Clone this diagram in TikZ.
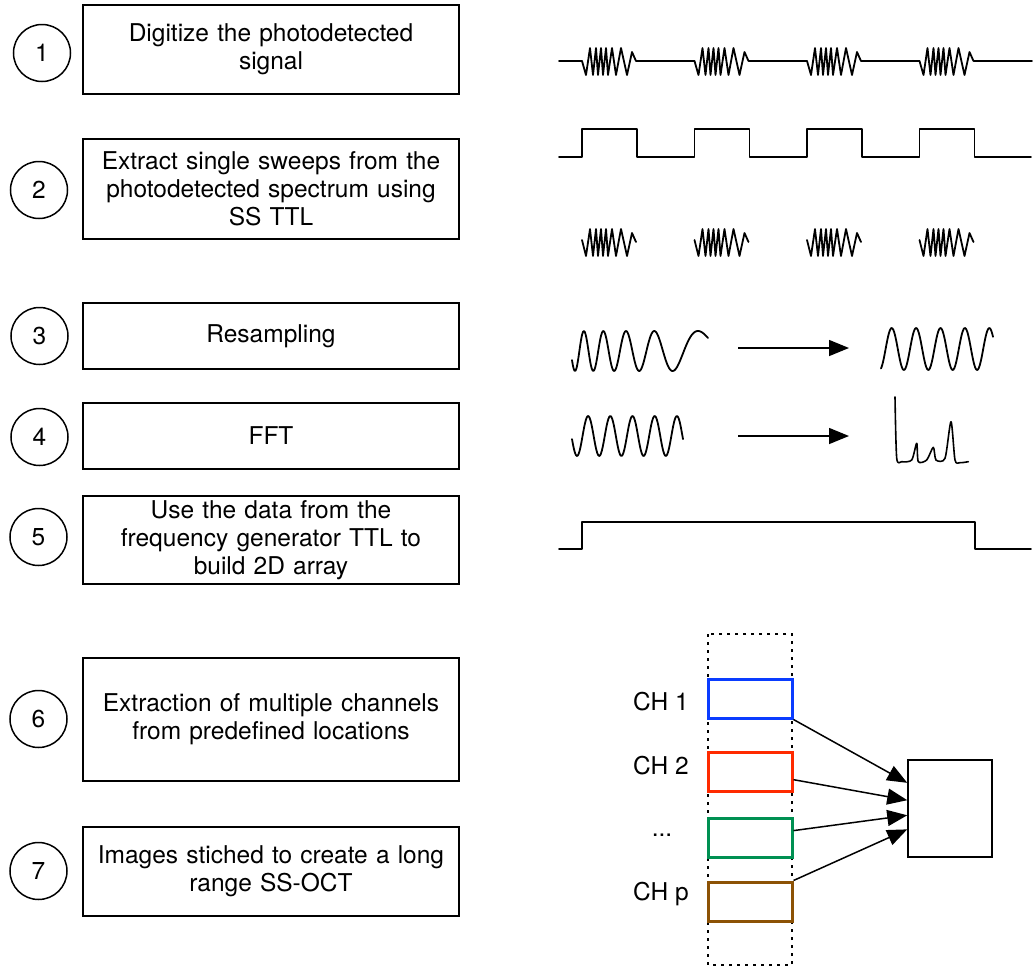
\documentclass[tikz,border=0pt]{standalone}
\usepackage{fontspec}
\setmainfont{TeX Gyre Heros}
\usetikzlibrary{arrows.meta,positioning,calc}

\definecolor{chblue}{RGB}{10,60,255}
\definecolor{chred}{RGB}{255,42,0}
\definecolor{chgreen}{RGB}{0,144,82}
\definecolor{chbrown}{RGB}{140,82,5}

\tikzset{
  stepbox/.style={draw, line width=1.5, minimum width=376, minimum height=#1,
    text width=362, align=center, inner sep=0},
  stepnum/.style={draw, circle, line width=1.5, minimum size=57, inner sep=0},
  wave/.style={line width=1.8, line join=round, line cap=round},
  bigarrow/.style={-{Triangle[length=20pt,width=16pt]}, line width=1.5},
  chbox/.style={draw=#1, line width=3, minimum width=84, minimum height=39, inner sep=0},
}

% one chirped burst, relative to its start
\newcommand{\sweep}[1]{(0,#1) -- (4,14) -- (8,-13) -- (11,14) -- (14,-13) -- (16,14)
  -- (19,-13) -- (21,14) -- (24,-13) -- (26,14) -- (30,-13) -- (34,14) -- (39,-13)
  -- (45,14) -- (50,-9) -- (54,0)}

\begin{document}
\begin{tikzpicture}[x=1pt, y=-1pt, font=\fontsize{24.5}{28}\selectfont]
    \useasboundingbox (0,0) rectangle (1034,972);

    % ==================== STEPS (LEFT) ====================
    \node[stepbox=89]  (s1) at (271,49.5) {Digitize the photodetected\\signal};
    \node[stepbox=100] (s2) at (271,189)  {Extract single sweeps from the\\photodetected spectrum using\\SS TTL};
    \node[stepbox=66]  (s3) at (271,336)  {Resampling};
    \node[stepbox=66]  (s4) at (271,436)  {FFT};
    \node[stepbox=88]  (s5) at (271,540)  {Use the data from the\\frequency generator TTL to\\build 2D array};
    \node[stepbox=123] (s6) at (271,719.5){Extraction of multiple channels\\from predefined locations};
    \node[stepbox=89]  (s7) at (271,871.5){Images stiched to create a long\\range SS-OCT};

    % step numbers
    \foreach \n/\x/\y in {1/42/53, 2/39/190, 3/39.5/336, 4/39.5/437, 5/38.5/537, 6/38.5/719, 7/38.5/871}
        \node[stepnum] (c\n) at (\x,\y) {\n};

    % ==================== SIGNALS (RIGHT) ====================
    % raw photodetected signal
    \draw[wave] (559,61) -- (582,61);
    \foreach \x in {582,694.5,807,919.5}
        \draw[wave, shift={(\x,61)}] \sweep{0} -- (112.5,0);

    % sweep trigger TTL
    \draw[wave] (559,157) foreach \x in {582,694.5,807,919.5} {
        -- (\x,157) -- (\x,129) -- (\x+55,129) -- (\x+55,157) } -- (1031,157);

    % single sweeps
    \foreach \x in {582,694.5,807,919.5}
        \draw[wave, shift={(\x,242)}] \sweep{-2};

    % resampling
    \draw[wave] plot[domain=0:136, samples=160, smooth]
        ({572+\x}, {351+20*cos(180*(-0.35+0.11773*\x-(0.018585*\x)^2))});
    \coordinate (rs-a) at (738,348);
    \coordinate (rs-b) at (849,348);
    \draw[bigarrow] (rs-a) -- (rs-b);
    \draw[wave] plot[domain=0:112, samples=120, smooth]
        ({881+\x}, {349+21*cos((\x+1.5)*14.754)});

    % FFT
    \draw[wave] plot[domain=0:111, samples=120, smooth]
        ({572+\x}, {436+20*cos((\x-5)*16.216)});
    \coordinate (ft-a) at (738,436);
    \coordinate (ft-b) at (849,436);
    \draw[bigarrow] (ft-a) -- (ft-b);
    \draw[wave, line width=1.6] plot[smooth, tension=0.45] coordinates {
        (895,397) (896.7,458) (901.7,461.7) (911.7,460) (916.7,443.3) (918.3,461.7)
        (926.7,460) (933.3,447.3) (936,460) (945,458.3) (951,421.7) (955,460)
        (960,462.7) (968.3,461.7)};

    % frequency generator TTL
    \draw[wave] (559,549) -- (582,549) -- (582,522) -- (975,522) -- (975,549) -- (1031,549);

    % ==================== CHANNELS ====================
    \draw[line width=1.4, dash pattern=on 3pt off 5pt] (708,634) rectangle (792,965);

    \node[chbox=chblue]  (ch1) at (750,698.5) {};
    \node[chbox=chred]   (ch2) at (750,772)   {};
    \node[chbox=chgreen] (ch3) at (750,837.5) {};
    \node[chbox=chbrown] (ch4) at (750,901.5) {};

    \node (l1) at (661,702) {CH 1};
    \node (l2) at (661,766) {CH 2};
    \node (l3) at (662,835) {...};
    \node (l4) at (661,894) {CH p};

    \node[draw, line width=1.5, minimum width=84, minimum height=97, inner sep=0] (img) at (950,808.5) {};

    \draw[bigarrow] (ch1.south east) -- (img.149);
    \draw[bigarrow] (ch2.-10) -- (img.169);
    \draw[bigarrow] (ch3.9) -- (img.189);
    \draw[bigarrow] (ch4.north east) -- (img.206);
\end{tikzpicture}
\end{document}
